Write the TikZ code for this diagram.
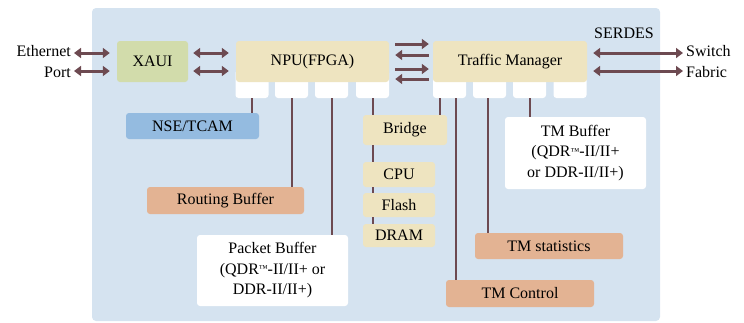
\documentclass[tikz,border=0pt]{standalone}
\usepackage{fontspec}
\setmainfont{Liberation Serif}
\usetikzlibrary{arrows.meta}
\definecolor{panel}{HTML}{D5E3F0}
\definecolor{wire}{HTML}{6D4A51}
\definecolor{green}{HTML}{D2DCAB}
\definecolor{sand}{HTML}{EEE4C0}
\definecolor{sky}{HTML}{94BBE0}
\definecolor{salmon}{HTML}{E3B393}
\newcommand{\tmsign}{\raisebox{2.5pt}{\fontsize{9}{9}\selectfont ™}}
\tikzset{
  box/.style={rounded corners=3pt,inner sep=2pt,align=center},
  port/.style={fill=white,rounded corners=3pt,minimum width=33,minimum height=28},
  lbl/.style={inner sep=0pt,align=center},
  wireline/.style={draw=wire,line width=2pt},
  dbl/.style={wire,line width=3pt,{Triangle[length=7pt,width=10pt]}-{Triangle[length=7pt,width=10pt]}},
  one/.style={wire,line width=3pt,-{Triangle[length=7pt,width=10pt]}}
}
\begin{document}
\begin{tikzpicture}[x=1pt,y=-1pt,font=\fontsize{16}{20.5}\selectfont]
    \useasboundingbox (0,0) rectangle (744,322);
    \fill[panel,rounded corners=4pt] (92,8) rectangle (660,321);

    % ports below the NPU and the traffic manager
    \node[port] (np1) at (252  ,84) {};
    \node[port] (np2) at (291.5,84) {};
    \node[port] (np3) at (331.5,84) {};
    \node[port] (np4) at (372.5,84) {};
    \node[port] (tp1) at (449.5,84) {};
    \node[port] (tp2) at (489.5,84) {};
    \node[port] (tp3) at (529.5,84) {};
    \node[port] (tp4) at (570  ,84) {};

    \node[box,fill=green,minimum width=71,minimum height=41]  (xaui) at (152.5,61.5) {XAUI};
    \node[box,fill=sand,minimum width=153,minimum height=41]  (npu)  at (312.5,61.5) {NPU(FPGA)};
    \node[box,fill=sand,minimum width=154,minimum height=41]  (tmgr) at (510  ,61.5) {Traffic Manager};

    \node[box,fill=sky,minimum width=133,minimum height=26]     (nse)    at (192.5,126)   {NSE/TCAM};
    \node[box,fill=salmon,minimum width=157,minimum height=27]  (rbuf)   at (225.5,200.5) {Routing Buffer};
    \node[box,fill=white,minimum width=151,minimum height=71]   (pbuf)   at (272.5,270.5) {Packet Buffer\\(QDR\tmsign-II/II+ or\\DDR-II/II+)};
    \node[box,fill=sand,minimum width=84,minimum height=30]     (bridge) at (405  ,130)   {Bridge};
    \node[box,fill=sand,minimum width=72,minimum height=25]     (cpu)    at (399  ,174.5) {CPU};
    \node[box,fill=sand,minimum width=72,minimum height=24]     (flash)  at (399  ,205)   {Flash};
    \node[box,fill=sand,minimum width=72,minimum height=23]     (dram)   at (399  ,235.5) {DRAM};
    \node[box,fill=white,minimum width=141,minimum height=72]   (tmbuf)  at (575.5,153)   {TM Buffer\\(QDR\tmsign-II/II+\\or DDR-II/II+)};
    \node[box,fill=salmon,minimum width=148,minimum height=26]  (tmstat) at (549  ,246)   {TM statistics};
    \node[box,fill=salmon,minimum width=148,minimum height=27]  (tmctl)  at (520  ,293.5) {TM Control};

    \node[lbl,anchor=east,align=right] (eth)    at (71 ,61.5) {Ethernet\\Port};
    \node[lbl,anchor=west,align=left]  (sw)     at (686,61.5) {Switch\\Fabric};
    \node[lbl]                         (serdes) at (624,33)   {SERDES};

    % links from the ports
    \draw[wireline] (np1.south) -- (np1.south |- nse.north);
    \draw[wireline] (np2.south) -- (np2.south |- rbuf.north);
    \draw[wireline] (np3.south) -- (np3.south |- pbuf.north);
    \draw[wireline] (np4.south) -- (np4.south |- bridge.north);
    \draw[wireline] (np4 |- bridge.south) -- (np4 |- cpu.north);
    \draw[wireline] (np4 |- cpu.south)    -- (np4 |- flash.north);
    \draw[wireline] (np4 |- flash.south)  -- (np4 |- dram.north);
    \draw[wireline] ([xshift=-9.5pt]tp1.south) -- ([xshift=-9.5pt]tp1.south |- bridge.north);
    \draw[wireline] ([xshift=6.5pt]tp1.south)  -- ([xshift=6.5pt]tp1.south |- tmctl.north);
    \draw[wireline] ([xshift=-1.5pt]tp2.south) -- ([xshift=-1.5pt]tp2.south |- tmstat.north);
    \draw[wireline] (tp3.south) -- (tp3.south |- tmbuf.north);

    % data paths
    \draw[dbl] ([xshift=3pt,yshift=8.5pt]eth.east)   -- ([xshift=-7pt,yshift=8.5pt]xaui.west);
    \draw[dbl] ([xshift=3pt,yshift=-9.5pt]eth.east)  -- ([xshift=-7pt,yshift=-9.5pt]xaui.west);
    \draw[dbl] ([xshift=5pt,yshift=8.5pt]xaui.east)  -- ([xshift=-7pt,yshift=8.5pt]npu.west);
    \draw[dbl] ([xshift=5pt,yshift=-9.5pt]xaui.east) -- ([xshift=-7pt,yshift=-9.5pt]npu.west);
    \draw[one] ([xshift=6pt,yshift=17.5pt]npu.east)  -- ([xshift=-4pt,yshift=17.5pt]tmgr.west);
    \draw[one] ([xshift=-4pt,yshift=6.5pt]tmgr.west) -- ([xshift=6pt,yshift=6.5pt]npu.east);
    \draw[one] ([xshift=6pt,yshift=-7.5pt]npu.east)  -- ([xshift=-4pt,yshift=-7.5pt]tmgr.west);
    \draw[one] ([xshift=-4pt,yshift=-17.5pt]tmgr.west) -- ([xshift=6pt,yshift=-17.5pt]npu.east);
    \draw[dbl] ([xshift=6pt,yshift=8.5pt]tmgr.east)  -- ([xshift=-3pt,yshift=8.5pt]sw.west);
    \draw[dbl] ([xshift=6pt,yshift=-9.5pt]tmgr.east) -- ([xshift=-3pt,yshift=-9.5pt]sw.west);
\end{tikzpicture}
\end{document}
